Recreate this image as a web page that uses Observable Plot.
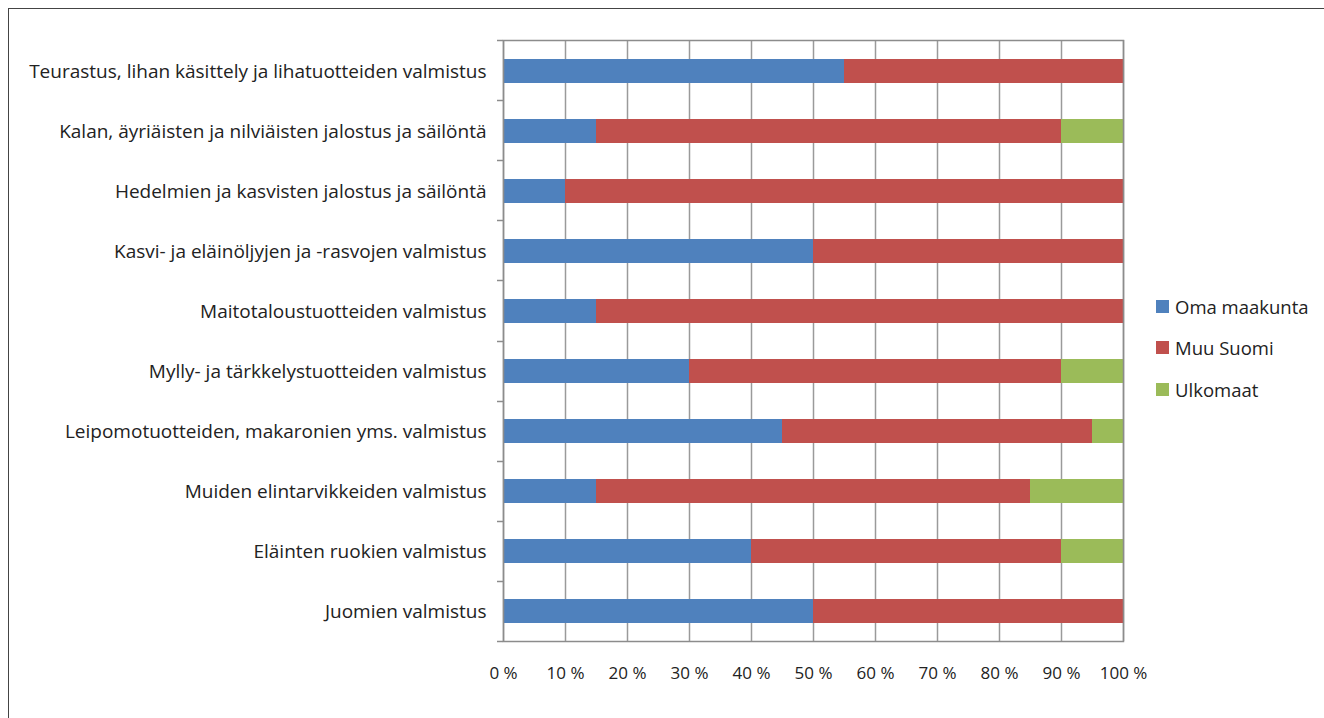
<!DOCTYPE html>
<html>
<head>
<meta charset="utf-8">
<script src="https://cdn.jsdelivr.net/npm/d3@7"></script>
<script src="https://cdn.jsdelivr.net/npm/@observablehq/plot@0.6"></script>
<style>
  html, body { margin: 0; padding: 0; background: #fff; overflow: hidden; }
  #wrap { position: relative; width: 1324px; height: 718px; }
  #frame { position: absolute; left: 8px; top: 8px; width: 1330px; height: 730px; border: 1px solid #444; box-sizing: border-box; }
  #chart { position: absolute; left: 0; top: 0; }
  #legend { position: absolute; left: 1156px; top: 296px; font-family: "Open Sans", sans-serif; font-size: 18.5px; color: #222; }
  .item { display: flex; align-items: center; height: 20px; margin-bottom: 21.5px; white-space: nowrap; }
  .sw { width: 13px; height: 13px; margin-right: 6px; flex: none; }
</style>
</head>
<body>
<div id="wrap">
  <div id="frame"></div>
  <div id="chart"></div>
  <div id="legend"></div>
</div>
<script>
const categories = [
  "Teurastus, lihan käsittely ja lihatuotteiden valmistus",
  "Kalan, äyriäisten ja nilviäisten jalostus ja säilöntä",
  "Hedelmien ja kasvisten jalostus ja säilöntä",
  "Kasvi- ja eläinöljyjen ja -rasvojen valmistus",
  "Maitotaloustuotteiden valmistus",
  "Mylly- ja tärkkelystuotteiden valmistus",
  "Leipomotuotteiden, makaronien yms. valmistus",
  "Muiden elintarvikkeiden valmistus",
  "Eläinten ruokien valmistus",
  "Juomien valmistus"
];
const seriesNames = ["Oma maakunta", "Muu Suomi", "Ulkomaat"];
const seriesColors = ["#4F81BD", "#C0504D", "#9BBB59"];
const omaMaakunta = [55, 15, 10, 50, 15, 30, 45, 15, 40, 50];
const muuSuomi    = [45, 75, 90, 50, 85, 60, 50, 70, 50, 50];
const ulkomaat    = [0, 10, 0, 0, 0, 10, 5, 15, 10, 0];
const xTicks = [0, 10, 20, 30, 40, 50, 60, 70, 80, 90, 100];

const seriesValues = [omaMaakunta, muuSuomi, ulkomaat];
const data = [];
seriesNames.forEach((s, si) => {
  categories.forEach((c, ci) => {
    data.push({category: c, series: s, value: seriesValues[si][ci] / 100});
  });
});

const font = '"Open Sans", sans-serif';

// band boundary ticks on the category axis
const boundaryTicks = (index, scales, values, dims) => {
  const g = d3.create("svg:g");
  const n = categories.length;
  const top = dims.marginTop, bottom = dims.height - dims.marginBottom;
  const step = (bottom - top) / n;
  const x0 = scales.x(0);
  for (let i = 0; i <= n; i++) {
    const yy = Math.round(top + i * step) + 0.5;
    g.append("line").attr("x1", x0 - 6).attr("x2", x0).attr("y1", yy).attr("y2", yy)
      .attr("stroke", "#8c8c8c").attr("stroke-width", 1.5);
  }
  return g.node();
};

const chart = Plot.plot({
  width: 1324,
  height: 718,
  marginLeft: 503,
  marginRight: 201,
  marginTop: 40,
  marginBottom: 77,
  style: {fontFamily: font, fontSize: "16px", color: "#222", background: "transparent"},
  x: {domain: [0, 1], label: null, ticks: xTicks.map(d => d / 100), tickFormat: d => Math.round(d * 100) + " %"},
  y: {domain: categories, label: null, padding: 0.6, paddingOuter: 0.3},
  color: {domain: seriesNames, range: seriesColors},
  marks: [
    Plot.gridX(xTicks.map(d => d / 100), {stroke: "#9a9a9a", strokeOpacity: 1, strokeWidth: 1.5}),
    Plot.barX(data, Plot.stackX({x: "value", y: "category", fill: "series", order: seriesNames})),
    Plot.frame({stroke: "#8c8c8c", strokeWidth: 1.5}),
    boundaryTicks,
    Plot.axisX(xTicks.map(d => d / 100), {tickSize: 0, tickPadding: 25, fontSize: 17, label: null, tickFormat: d => Math.round(d * 100) + " %"}),
    Plot.axisY({tickSize: 0, tickPadding: 17, fontSize: 19, label: null})
  ]
});
chart.style.fontFamily = font;
document.getElementById("chart").appendChild(chart);

const legend = document.getElementById("legend");
seriesNames.forEach((s, i) => {
  const it = document.createElement("div");
  it.className = "item";
  const sw = document.createElement("div");
  sw.className = "sw";
  sw.style.background = seriesColors[i];
  const t = document.createElement("span");
  t.textContent = s;
  it.appendChild(sw); it.appendChild(t);
  legend.appendChild(it);
});
</script>
</body>
</html>
